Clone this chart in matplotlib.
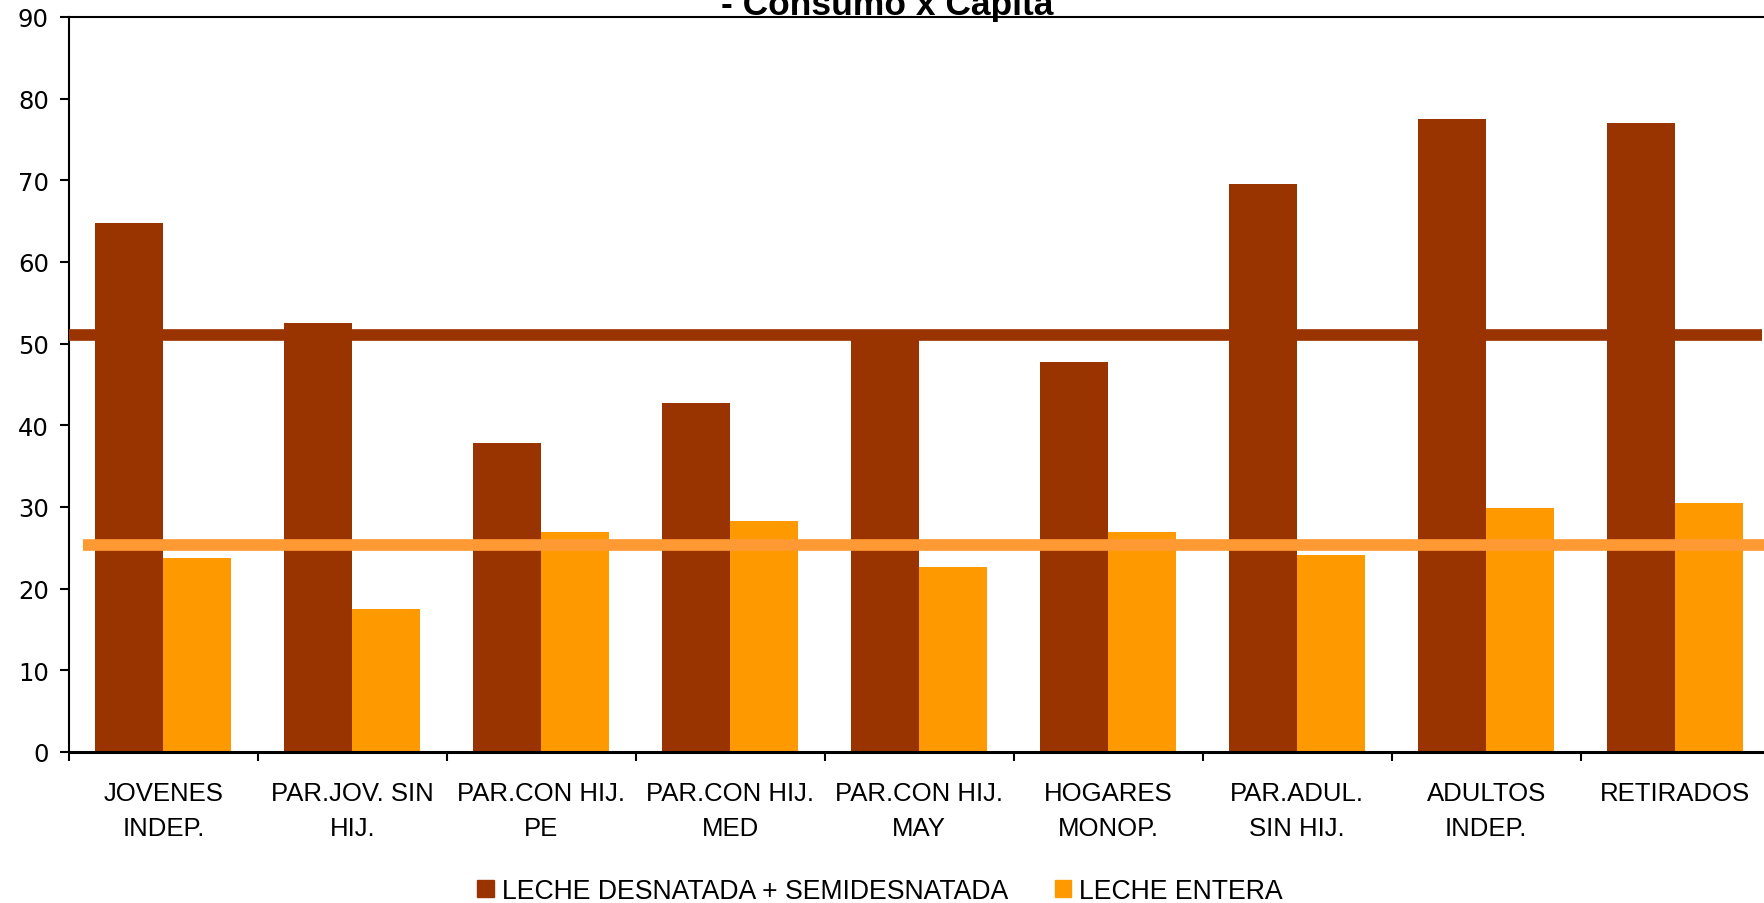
import numpy as np
import matplotlib.pyplot as plt
from matplotlib.patches import Patch

categories = ['JOVENES\nINDEP.', 'PAR.JOV. SIN\nHIJ.', 'PAR.CON HIJ.\nPE', 'PAR.CON HIJ.\nMED',
              'PAR.CON HIJ.\nMAY', 'HOGARES\nMONOP.', 'PAR.ADUL.\nSIN HIJ.', 'ADULTOS\nINDEP.',
              'RETIRADOS']
desnatada = [64.8, 52.5, 37.8, 42.7, 51.0, 47.8, 69.5, 77.5, 77.0]
entera = [23.7, 17.5, 27.0, 28.3, 22.6, 27.0, 24.1, 29.9, 30.5]
media_desnatada = 51.1
media_entera = 25.4
series_names = ['LECHE DESNATADA + SEMIDESNATADA', 'LECHE ENTERA']

c_brown = '#993300'
c_orange = '#FF9900'
c_orange_line = '#FF9933'

fig = plt.figure(figsize=(17.65, 9.04), dpi=100)
ax = fig.add_axes([69 / 1765, 1 - 753 / 904, 1700.5 / 1765, 735 / 904])

x = np.arange(len(categories))
w = 0.36
off = 0.14
ax.bar(x + off, desnatada, width=w, align='edge', color=c_brown, zorder=2)
ax.bar(x + off + w, entera, width=w, align='edge', color=c_orange, zorder=2)

# average lines drawn over the bars
ax.hlines(media_desnatada, 0, 8.96, color=c_brown, lw=8.4, zorder=3)
ax.hlines(media_entera, 0.074, 9.2, color=c_orange_line, lw=8.4, zorder=3)

ax.set_xlim(0, len(categories))
ax.set_ylim(0, 90)
ax.set_yticks(range(0, 91, 10))

ax.set_xticks(range(len(categories) + 1))
ax.set_xticklabels([])
ax.set_xticks(x + 0.5, minor=True)
ax.set_xticklabels(categories, minor=True, family='Liberation Sans', fontsize=18.5,
                   linespacing=1.55)
ax.tick_params(axis='x', which='minor', length=0, pad=21)
ax.tick_params(axis='x', which='major', direction='out', length=6.5, width=1.5)
ax.tick_params(axis='y', direction='out', length=6.5, width=1.5, pad=8, labelsize=17.5)

for s in ['left', 'top', 'bottom']:
    ax.spines[s].set_linewidth(1.5)
ax.spines['bottom'].set_linewidth(2.2)
ax.spines['right'].set_visible(False)

fig.text(887 / 1765, 1 - 15 / 904, '- Consumo x Capita', ha='center', va='baseline',
         family='Liberation Sans', fontweight='bold', fontsize=25.5)

handles = [Patch(color=c_brown), Patch(color=c_orange)]
fig.legend(handles, series_names, loc='center', bbox_to_anchor=(880 / 1765, 1 - 892 / 904),
           ncol=2, frameon=False, prop={'family': 'Liberation Sans', 'size': 19.2},
           handlelength=0.63, handleheight=0.63, handletextpad=0.3, columnspacing=1.75)

fig.savefig('out.png', dpi=100)
